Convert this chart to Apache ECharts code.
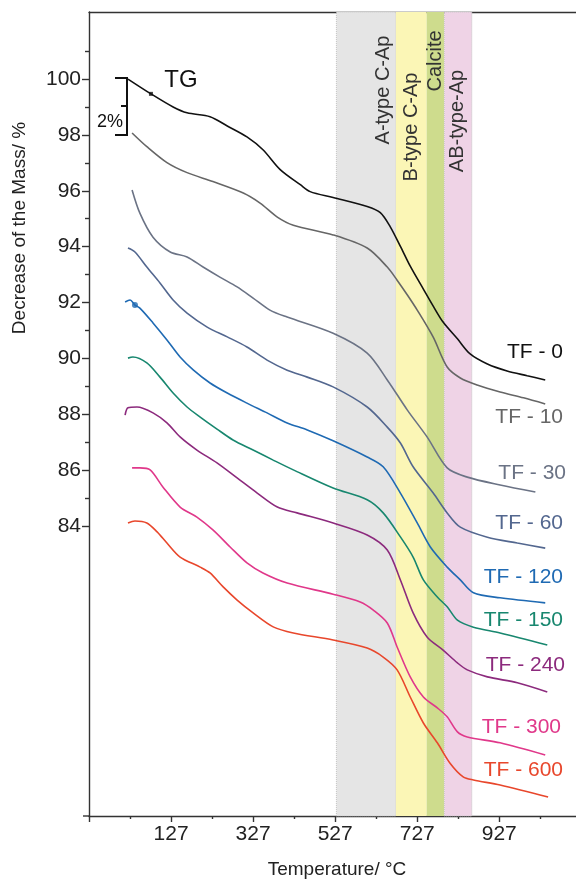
<!DOCTYPE html>
<html><head><meta charset="utf-8">
<script src="https://cdn.jsdelivr.net/npm/echarts@6/dist/echarts.min.js"></script>
<style>html,body{margin:0;padding:0;background:#fff}#c{width:576px;height:882px}</style>
</head><body><div id="c"></div>
<script>
// ---- data (Temperature °C, mass %) ----
const seriesNames = ['TF - 0','TF - 10','TF - 30','TF - 60','TF - 120','TF - 150','TF - 240','TF - 300','TF - 600'];
const tf0 = [[22,100.0],[78,99.47],[132,99.0],[166,98.79],[222,98.65],[264,98.32],[312,97.93],[351,97.47],[393,96.76],[442,96.22],[466,95.97],[522,95.76],[605,95.44],[637,95.22],[661,94.72],[686,94.01],[710,93.30],[742,92.48],[766,91.87],[790,91.30],[825,90.70],[856,90.16],[898,89.80],[946,89.55],[995,89.38],[1039,89.23]];
const tf10 = [[32,98.07],[68,97.58],[117,97.01],[166,96.65],[229,96.33],[303,95.92],[344,95.56],[386,95.06],[425,94.77],[522,94.42],[605,93.95],[654,93.27],[678,92.80],[703,92.27],[727,91.73],[766,90.76],[800,89.69],[832,89.30],[873,89.05],[929,88.80],[986,88.59],[1039,88.37]];
const tf30 = [[32,96.03],[51,95.20],[83,94.34],[125,93.81],[166,93.63],[205,93.27],[246,92.91],[288,92.56],[327,92.16],[368,91.73],[410,91.48],[522,90.90],[605,90.19],[654,89.23],[703,88.15],[751,87.19],[800,86.08],[849,85.75],[929,85.47],[1015,85.22]];
const tf60 = [[22,93.95],[39,93.81],[68,93.27],[100,92.70],[132,92.09],[166,91.62],[215,91.12],[264,90.77],[312,90.41],[361,89.94],[410,89.58],[459,89.33],[522,88.98],[605,88.26],[654,87.54],[686,86.97],[717,86.12],[766,85.18],[800,84.47],[832,83.96],[898,83.60],[971,83.39],[1039,83.21]];
const tf120 = [[15,92.02],[27,92.09],[39,91.91],[51,91.80],[83,91.27],[117,90.66],[149,90.05],[181,89.59],[222,89.12],[264,88.76],[312,88.40],[361,88.05],[410,87.69],[459,87.44],[522,87.05],[605,86.47],[644,86.12],[686,85.18],[727,84.11],[759,83.25],[800,82.53],[832,82.07],[864,81.61],[929,81.43],[1039,81.25]];
const tf150 = [[22,90.01],[34,90.05],[68,89.84],[100,89.33],[132,88.76],[166,88.26],[198,87.90],[239,87.47],[278,87.08],[327,86.72],[376,86.36],[425,86.01],[522,85.36],[605,84.94],[644,84.47],[686,83.61],[717,82.89],[742,82.07],[776,81.46],[800,81.11],[825,80.63],[864,80.38],[929,80.17],[1044,79.74]];
const tf240 = [[15,87.97],[22,88.23],[44,88.26],[83,88.05],[117,87.69],[149,87.19],[190,86.72],[239,86.26],[288,85.72],[337,85.18],[386,84.68],[434,84.47],[522,84.11],[605,83.68],[654,83.14],[686,82.07],[717,80.89],[751,80.03],[790,79.56],[825,79.10],[849,78.85],[898,78.60],[971,78.39],[1044,78.06]];
const tf300 = [[32,86.08],[51,86.08],[76,86.01],[107,85.40],[149,84.68],[190,84.32],[229,83.86],[271,83.25],[312,82.68],[351,82.32],[410,81.96],[522,81.56],[588,81.28],[620,80.99],[654,80.53],[678,79.67],[710,78.60],[742,77.88],[776,77.49],[800,77.17],[825,76.63],[849,76.45],[929,76.24],[1039,75.80]];
const tf600 = [[22,84.11],[39,84.18],[68,84.11],[93,83.79],[117,83.39],[149,82.89],[198,82.53],[222,82.32],[254,81.82],[288,81.35],[327,80.89],[376,80.39],[425,80.17],[522,79.92],[605,79.63],[644,79.31],[678,78.85],[710,77.88],[742,76.95],[776,76.24],[807,75.51],[839,75.02],[864,74.91],[929,74.73],[1046,74.30]];
const markerTF0 = [[78,99.47]];
const markerTF120 = [[39,91.91]];
// temperature bands (°C)
const bandNames = ['A-type C-Ap','B-type C-Ap','Calcite','AB-type-Ap'];
const bandFrom = [530,675,750,793];
const bandTo   = [675,750,793,860];
// axis ticks
const xLabelValues = [127,327,527,727,927];
const xMajorTicks = [-73,127,327,527,727,927];
const xMinorTicks = [27,227,427,627,827,1027];
const yLabelValues = [84,86,88,90,92,94,96,98,100];
const yMinorTicks = [85,87,89,91,93,95,97,99,101];

// ---- styles ----
const FONT = '"Liberation Sans", Arial, sans-serif';
const colors = ['#111111','#666666','#6b7385','#53678f','#1f6ab3','#18876f','#8c2a7d','#e0388a','#e8472c'];
const bandColors = ['#e5e5e5','#fbf6b6','#cedc8d','#efd3e6'];
const allData = [tf0,tf10,tf30,tf60,tf120,tf150,tf240,tf300,tf600];
const X_MIN = -73, X_MAX = 1114, Y_MIN = 73.62, Y_MAX = 102.4;

const chart = echarts.init(document.getElementById('c'));

const bandData = bandNames.map((n,i)=>[
  {xAxis: bandFrom[i], itemStyle:{color: bandColors[i],
     borderColor: (i===0||i===3)?'#c4c4c4':'rgba(0,0,0,0)', borderWidth: (i===0||i===3)?1:0, borderType:'dotted'}},
  {xAxis: bandTo[i]}
]);

const series = allData.map((d,i)=>({
  name: seriesNames[i], type:'line', data:d, showSymbol:false, symbol:'none',
  smooth:0.3,
  lineStyle:{color:colors[i], width:1.6}, z:3,
  markArea: i===0 ? {silent:true, data: bandData, z:1} : undefined
}));
series.push({type:'scatter', data:markerTF0, symbol:'rect', symbolSize:4, itemStyle:{color:'#111'}, z:4});
series.push({type:'scatter', data:markerTF120, symbol:'circle', symbolSize:6, itemStyle:{color:'#1f6ab3'}, z:4});

// label positions (pixels)
const tfLabelPos = [[563,352],[563,417],[566,473],[563,523],[563,577],[563,620],[565,665],[561,727],[563,770]];
const bandLabelPos = [[383,90],[411,127],[435,61],[457,121]];

const graphic = [];
seriesNames.forEach((n,i)=>graphic.push({type:'text', x:tfLabelPos[i][0], y:tfLabelPos[i][1], z:10,
  style:{text:n, fill:colors[i], font:'21px '+FONT, textAlign:'right', textVerticalAlign:'middle'}}));
bandNames.forEach((n,i)=>graphic.push({type:'text', x:bandLabelPos[i][0], y:bandLabelPos[i][1], rotation:Math.PI/2, z:10,
  style:{text:n, fill:'#333', font:'20px '+FONT, textAlign:'center', textVerticalAlign:'middle'}}));
graphic.push({type:'text', x:20, y:228, rotation:Math.PI/2, style:{text:'Decrease of the Mass/ %', fill:'#222', font:'19px '+FONT, textAlign:'center', textVerticalAlign:'middle'}});
graphic.push({type:'text', x:337, y:870, style:{text:'Temperature/ °C', fill:'#222', font:'19px '+FONT, textAlign:'center', textVerticalAlign:'middle'}});
graphic.push({type:'text', x:181, y:80, style:{text:'TG', fill:'#111', font:'24px '+FONT, textAlign:'center', textVerticalAlign:'middle'}});
graphic.push({type:'text', x:110, y:122, style:{text:'2%', fill:'#111', font:'18px '+FONT, textAlign:'center', textVerticalAlign:'middle'}});
graphic.push({type:'polyline', shape:{points:[[115,78],[127,78],[127,135],[115,135]]}, style:{stroke:'#111', lineWidth:2, fill:null}, z:10});
graphic.push({type:'line', shape:{x1:121,y1:106,x2:127,y2:106}, style:{stroke:'#111', lineWidth:2}, z:10});
graphic.push({type:'line', shape:{x1:83,y1:816,x2:89,y2:816}, style:{stroke:'#333', lineWidth:1.4}, z:10});

const axisLineStyle = {color:'#333', width:1.4};
const option = {
  backgroundColor:'#fff',
  animation:false,
  grid:{left:89, right:0, top:12, bottom:66, containLabel:false},
  xAxis:[
    {type:'value', min:X_MIN, max:X_MAX, position:'bottom',
     axisLine:{show:true, onZero:false, lineStyle:axisLineStyle},
     axisTick:{show:true, inside:false, length:6, customValues:xMajorTicks, lineStyle:axisLineStyle},
     axisLabel:{show:true, customValues:xLabelValues, fontSize:21, fontFamily:FONT, color:'#222', margin:8},
     splitLine:{show:false}},
    {type:'value', min:X_MIN, max:X_MAX, position:'bottom',
     axisLine:{show:false, onZero:false},
     axisTick:{show:true, inside:false, length:3, customValues:xMinorTicks, lineStyle:axisLineStyle},
     axisLabel:{show:false}, splitLine:{show:false}},
    {type:'value', min:X_MIN, max:X_MAX, position:'top',
     axisLine:{show:true, onZero:false, lineStyle:axisLineStyle},
     axisTick:{show:false}, axisLabel:{show:false}, splitLine:{show:false}}
  ],
  yAxis:[
    {type:'value', min:Y_MIN, max:Y_MAX, position:'left',
     axisLine:{show:true, onZero:false, lineStyle:axisLineStyle},
     axisTick:{show:true, inside:false, length:7, customValues:yLabelValues, lineStyle:axisLineStyle},
     axisLabel:{show:true, customValues:yLabelValues, fontSize:21, fontFamily:FONT, color:'#222', margin:8},
     splitLine:{show:false}},
    {type:'value', min:Y_MIN, max:Y_MAX, position:'left',
     axisLine:{show:false, onZero:false},
     axisTick:{show:true, inside:false, length:4, customValues:yMinorTicks, lineStyle:axisLineStyle},
     axisLabel:{show:false}, splitLine:{show:false}}
  ],
  series: series,
  graphic: graphic
};
chart.setOption(option);
</script>
</body></html>
